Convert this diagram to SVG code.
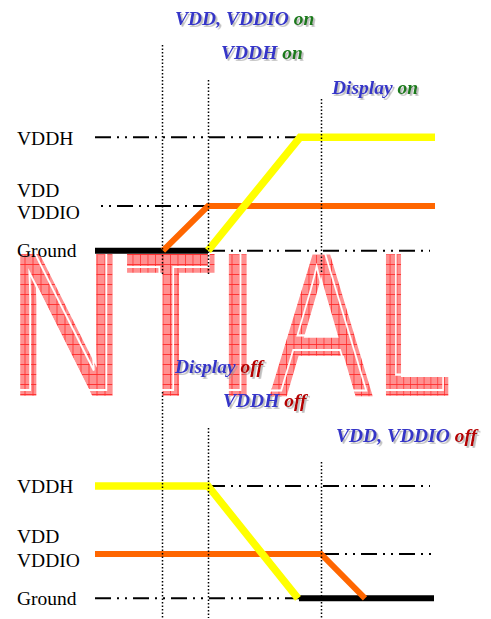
<svg xmlns="http://www.w3.org/2000/svg" width="491" height="619" viewBox="0 0 491 619">
<defs>
  <pattern id="wm" patternUnits="userSpaceOnUse" width="10" height="10">
    <rect width="10" height="10" fill="#ff9090"/>
    <path d="M0 0.5H10M0.5 0V10" stroke="#ff2a2a" stroke-width="1"/>
  </pattern>
  <filter id="sh" x="-10%" y="-30%" width="130%" height="170%">
    <feDropShadow dx="1.8" dy="1.8" stdDeviation="0.5" flood-color="#9a9a9a" flood-opacity="0.65"/>
  </filter>
</defs>
<style>
  .wm { font-family: "Liberation Sans", Arial, sans-serif; font-size: 200px; }
  .wmf { fill: url(#wm); stroke: url(#wm); stroke-width: 3.5; }
  .wmi { fill: none; stroke: #ffffff; stroke-width: 2.2; }
  .lbl { font-family: "Liberation Serif", "Times New Roman", serif; font-size: 19.5px; fill: #000; }
  .ttl { font-family: "Liberation Serif", "Times New Roman", serif; font-size: 19.5px; font-weight: bold; font-style: italic; filter: url(#sh); }
  .b { fill: #3535c8; }
  .on { fill: #1b7a1b; }
  .off { fill: #b50000; }
  .dd { stroke: #000; stroke-width: 2; stroke-dasharray: 16 6 2 6 2 6; fill: none; }
  .dot { stroke: #000; stroke-width: 1.5; stroke-dasharray: 1.5 2; fill: none; }
  .y { stroke: #ffff00; stroke-width: 7.5; fill: none; }
  .o { stroke: #ff6600; stroke-width: 6; fill: none; }
  .k { stroke: #000; stroke-width: 6; fill: none; }
</style>

<g id="watermark">
  <g transform="translate(8.5,394) scale(0.8,1)"><text class="wm wmf">N</text><text class="wm wmi" x="-6" y="-4">N</text></g>
  <g transform="translate(125,394) scale(0.75,1)"><text class="wm wmf">T</text><text class="wm wmi" x="-6" y="-4">T</text></g>
  <g transform="translate(215.5,394) scale(0.8,1)"><text class="wm wmf">I</text><text class="wm wmi" x="-6" y="-4">I</text></g>
  <g transform="translate(271,394) scale(0.75,1)"><text class="wm wmf">A</text><text class="wm wmi" x="-6" y="-4">A</text></g>
  <g transform="translate(376,394) scale(0.68,1)"><text class="wm wmf">L</text><text class="wm wmi" x="-6" y="-4">L</text></g>
</g>

<g id="connectors">
  <!-- reference dash-dot lines, power-up -->
  <path class="dd" d="M95 137.3H430"/>
  <path class="dd" d="M101 206H430" stroke-dashoffset="22"/>
  <path class="dd" d="M95 250.7H430"/>
  <!-- reference dash-dot lines, power-down -->
  <path class="dd" d="M95 486H430"/>
  <path class="dd" d="M95 554H435"/>
  <path class="dd" d="M95 598.3H430"/>

  <!-- power-up traces -->
  <path class="k" d="M95 250.7H208"/>
  <path class="o" d="M163 250.7L208 206H435"/>
  <path class="y" d="M208 250.7L300 137.3H435"/>

  <!-- power-down traces -->
  <path class="k" d="M299 598.3H434"/>
  <path class="o" d="M95 554H321L365 598.3"/>
  <path class="y" d="M95 486H208L298 598.3"/>

  <!-- timing markers -->
  <path class="dot" d="M162.5 45V274"/>
  <path class="dot" d="M208.5 80V274"/>
  <path class="dot" d="M321.5 99V274"/>
  <path class="dot" d="M162.5 392V618"/>
  <path class="dot" d="M208.5 428V618"/>
  <path class="dot" d="M321.5 462V618"/>
</g>

<g id="labels-up">
  <text class="lbl" x="17" y="145">VDDH</text>
  <text class="lbl" x="17" y="197">VDD</text>
  <text class="lbl" x="17" y="219">VDDIO</text>
  <text class="lbl" x="17" y="257">Ground</text>
</g>
<g id="labels-down">
  <text class="lbl" x="17" y="493">VDDH</text>
  <text class="lbl" x="17" y="543">VDD</text>
  <text class="lbl" x="17" y="567">VDDIO</text>
  <text class="lbl" x="17" y="605">Ground</text>
</g>

<g id="event-vdd-on"><text class="ttl" x="175" y="25"><tspan class="b">VDD, VDDIO </tspan><tspan class="on">on</tspan></text></g>
<g id="event-vddh-on"><text class="ttl" x="221" y="59"><tspan class="b">VDDH </tspan><tspan class="on">on</tspan></text></g>
<g id="event-display-on"><text class="ttl" x="332" y="94"><tspan class="b">Display </tspan><tspan class="on">on</tspan></text></g>
<g id="event-display-off"><text class="ttl" x="175" y="373"><tspan class="b">Display </tspan><tspan class="off">off</tspan></text></g>
<g id="event-vddh-off"><text class="ttl" x="223" y="407"><tspan class="b">VDDH </tspan><tspan class="off">off</tspan></text></g>
<g id="event-vdd-off"><text class="ttl" x="336" y="442"><tspan class="b">VDD, VDDIO </tspan><tspan class="off">off</tspan></text></g>
</svg>
